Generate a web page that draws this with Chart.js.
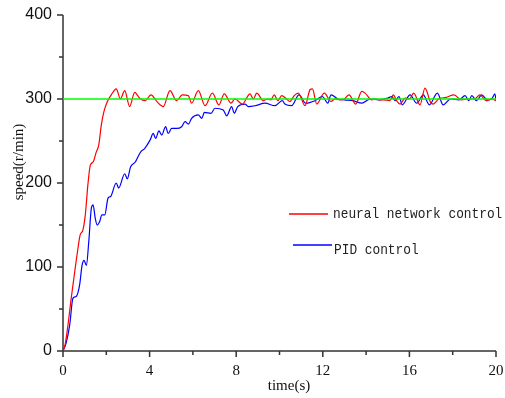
<!DOCTYPE html>
<html>
<head>
<meta charset="utf-8">
<script src="https://cdn.jsdelivr.net/npm/chart.js@4/dist/chart.umd.min.js"></script>
<style>
html, body { margin: 0; padding: 0; background: #fff; }
#wrap { width: 505px; height: 398px; }
</style>
</head>
<body>
<div id="wrap"><canvas id="speedChart" width="505" height="398"></canvas></div>
<script>
// Values (time in s, speed in r/min)
const setpointTime = [0, 20];
const setpointSpeed = [300, 300];

const neuralTime = [0, 0.1, 0.23, 0.38, 0.54, 0.69, 0.79, 0.92, 1.03, 1.15, 1.26, 1.39, 1.54, 1.65, 1.77, 1.89, 2.05, 2.23, 2.46, 2.65, 2.85,
    3.08, 3.31, 3.54, 3.8, 4.06, 4.37, 4.63, 4.94, 5.25, 5.51, 5.79, 5.94, 6.25, 6.56, 6.9, 7.2, 7.45, 7.76, 7.94,
    8.28, 8.64, 8.79, 8.95, 9.25, 9.45, 9.6, 9.76, 9.92, 10.1, 10.33, 10.48, 10.68, 10.87, 11.18, 11.41, 11.52, 11.72,
    12.07, 12.38, 12.56, 12.8, 13.0, 13.21, 13.52, 13.8, 13.95, 14.26, 14.45, 14.6, 14.8, 15.1, 15.26, 15.41, 15.57,
    15.8, 16.0, 16.2, 16.49, 16.72, 16.98, 17.1, 17.35, 17.7, 18.06, 18.4, 18.7, 19.0, 19.26, 19.54, 19.8, 20.0];
const neuralSpeed = [0, 8, 31, 63, 94, 122, 138, 144, 162, 198, 221, 225, 237, 245, 269, 285, 297, 305, 312, 300, 310,
    291, 308, 301, 298, 305, 296, 291, 310, 298, 305, 304, 295, 310, 292, 307, 293, 306, 295, 300,
    294, 306, 300, 307, 298, 300, 299, 305, 298, 304, 300, 297, 304, 307, 292, 311, 312, 294,
    307, 297, 300, 299, 300, 305, 294, 309, 307, 299, 300, 299, 299, 298, 305, 298, 294,
    301, 300, 307, 293, 313, 296, 294, 300, 302, 305, 299, 300, 300, 305, 298, 300, 298];

const pidTime = [0, 0.15, 0.31, 0.46, 0.61, 0.77, 0.88, 0.97, 1.08, 1.19, 1.31, 1.39, 1.49, 1.58, 1.69, 1.8, 1.93, 2.08, 2.2, 2.46, 2.57,
    2.85, 2.97, 3.12, 3.34, 3.46, 3.59, 3.77, 4.02, 4.17, 4.28, 4.43, 4.56, 4.74, 4.86, 5.02, 5.25, 5.48, 5.64, 5.79,
    5.94, 6.25, 6.41, 6.53, 6.84, 7.02, 7.4, 7.56, 7.79, 7.91, 8.07, 8.41, 8.56, 8.87, 9.33, 9.79, 10.13, 10.25, 10.56,
    10.9, 11.21, 11.64, 11.98, 12.23, 12.38, 12.7, 13.0, 13.4, 13.8, 14.2, 14.6, 15.0, 15.18, 15.35, 15.52, 15.67,
    16.03, 16.34, 16.64, 16.92, 17.29, 17.56, 17.9, 18.3, 18.57, 18.75, 18.88, 19.1, 19.34, 19.6, 19.8, 19.95, 20.0];
const pidSpeed = [0, 10, 31, 63, 65, 79, 102, 108, 102, 130, 170, 174, 158, 150, 154, 162, 162, 182, 184, 200, 194,
    211, 205, 219, 225, 231, 237, 241, 251, 259, 253, 262, 257, 267, 259, 265, 265, 267, 273, 270,
    277, 281, 277, 284, 283, 289, 287, 280, 291, 283, 291, 294, 291, 292, 295, 292, 298, 294, 292,
    305, 295, 298, 303, 295, 305, 300, 299, 298, 295, 300, 299, 301, 303, 298, 303, 293,
    305, 295, 305, 293, 307, 293, 300, 299, 304, 298, 304, 298, 305, 299, 300, 306, 299];

const xTicks = [0, 4, 8, 12, 16, 20];
const xMinorTicks = [2, 6, 10, 14, 18];
const yTicks = [0, 100, 200, 300, 400];
const yMinorTicks = [50, 150, 250, 350];

function toPoints(xs, ys) {
    return xs.map((t, i) => ({ x: t, y: ys[i] }));
}

// Axis lines and tick marks (major long, minor short)
const axisPlugin = {
    id: 'axisPlugin',
    beforeDatasetsDraw(chart) {
        const { ctx, scales: { x, y } } = chart;
        const x0 = x.getPixelForValue(0);
        const y0 = y.getPixelForValue(0);
        ctx.save();
        ctx.strokeStyle = '#333';
        ctx.lineWidth = 1.5;
        ctx.beginPath();
        ctx.moveTo(x0, y.getPixelForValue(400));
        ctx.lineTo(x0, y0);
        ctx.lineTo(x.getPixelForValue(20), y0);
        yTicks.forEach(v => { const p = y.getPixelForValue(v); ctx.moveTo(x0 - 6, p); ctx.lineTo(x0, p); });
        yMinorTicks.forEach(v => { const p = y.getPixelForValue(v); ctx.moveTo(x0 - 4, p); ctx.lineTo(x0, p); });
        xTicks.forEach(v => { const p = x.getPixelForValue(v); ctx.moveTo(p, y0); ctx.lineTo(p, y0 + 6); });
        xMinorTicks.forEach(v => { const p = x.getPixelForValue(v); ctx.moveTo(p, y0); ctx.lineTo(p, y0 + 4); });
        ctx.stroke();

        // axis titles
        ctx.fillStyle = '#111';
        ctx.font = '15px "Liberation Serif", "Times New Roman", serif';
        ctx.textAlign = 'center';
        ctx.textBaseline = 'middle';
        ctx.fillText('time(s)', 289, 386);
        ctx.translate(19, 162);
        ctx.rotate(-Math.PI / 2);
        ctx.fillText('speed(r/min)', 0, 0);
        ctx.restore();
    }
};

// Legend drawn inside the plot area
const legendPlugin = {
    id: 'innerLegend',
    afterDatasetsDraw(chart) {
        const { ctx } = chart;
        const items = [
            { ds: chart.data.datasets[1], x1: 289, x2: 328, ly: 214, tx: 333, ty: 214 },
            { ds: chart.data.datasets[2], x1: 293, x2: 332, ly: 245, tx: 334, ty: 250 }
        ];
        ctx.save();
        items.forEach(it => {
            ctx.strokeStyle = it.ds.borderColor;
            ctx.lineWidth = 1.3;
            ctx.beginPath();
            ctx.moveTo(it.x1, it.ly);
            ctx.lineTo(it.x2, it.ly);
            ctx.stroke();
            ctx.save();
            ctx.translate(it.tx, it.ty);
            ctx.scale(0.855, 1);
            ctx.fillStyle = '#222';
            ctx.font = '15px "Liberation Mono", "DejaVu Sans Mono", monospace';
            ctx.textAlign = 'left';
            ctx.textBaseline = 'middle';
            ctx.fillText(it.ds.label, 0, 0);
            ctx.restore();
        });
        ctx.restore();
    }
};

const ctx = document.getElementById('speedChart').getContext('2d');
new Chart(ctx, {
    type: 'line',
    data: {
        datasets: [
            {
                label: 'setpoint',
                data: toPoints(setpointTime, setpointSpeed),
                borderColor: '#00ff00',
                borderWidth: 1.6,
                pointRadius: 0,
                tension: 0
            },
            {
                label: 'neural network control',
                data: toPoints(neuralTime, neuralSpeed),
                borderColor: '#ff0000',
                borderWidth: 1.2,
                pointRadius: 0,
                cubicInterpolationMode: 'monotone'
            },
            {
                label: 'PID control',
                data: toPoints(pidTime, pidSpeed),
                borderColor: '#0000ff',
                borderWidth: 1.2,
                pointRadius: 0,
                cubicInterpolationMode: 'monotone'
            }
        ]
    },
    options: {
        responsive: false,
        animation: false,
        layout: { padding: { left: 0, right: 9, top: 15, bottom: 0 } },
        plugins: {
            legend: { display: false },
            tooltip: { enabled: false }
        },
        scales: {
            x: {
                type: 'linear',
                min: 0,
                max: 20,
                afterBuildTicks: s => { s.ticks = xTicks.map(v => ({ value: v })); },
                afterFit: s => { s.height = 47; s.paddingLeft = 0; s.paddingRight = 0; },
                grid: { display: false, drawTicks: false },
                border: { display: false },
                ticks: {
                    color: '#111',
                    padding: 11,
                    maxRotation: 0,
                    font: { family: '"Liberation Serif", "Times New Roman", serif', size: 15 }
                }
            },
            y: {
                min: 0,
                max: 400,
                afterBuildTicks: s => { s.ticks = yTicks.map(v => ({ value: v })); },
                afterFit: s => { s.width = 63; s.paddingTop = 0; s.paddingBottom = 0; },
                grid: { display: false, drawTicks: false },
                border: { display: false },
                ticks: {
                    color: '#111',
                    padding: 11,
                    font: { family: '"Liberation Sans", Arial, sans-serif', size: 16 }
                }
            }
        }
    },
    plugins: [axisPlugin, legendPlugin]
});
</script>
</body>
</html>
